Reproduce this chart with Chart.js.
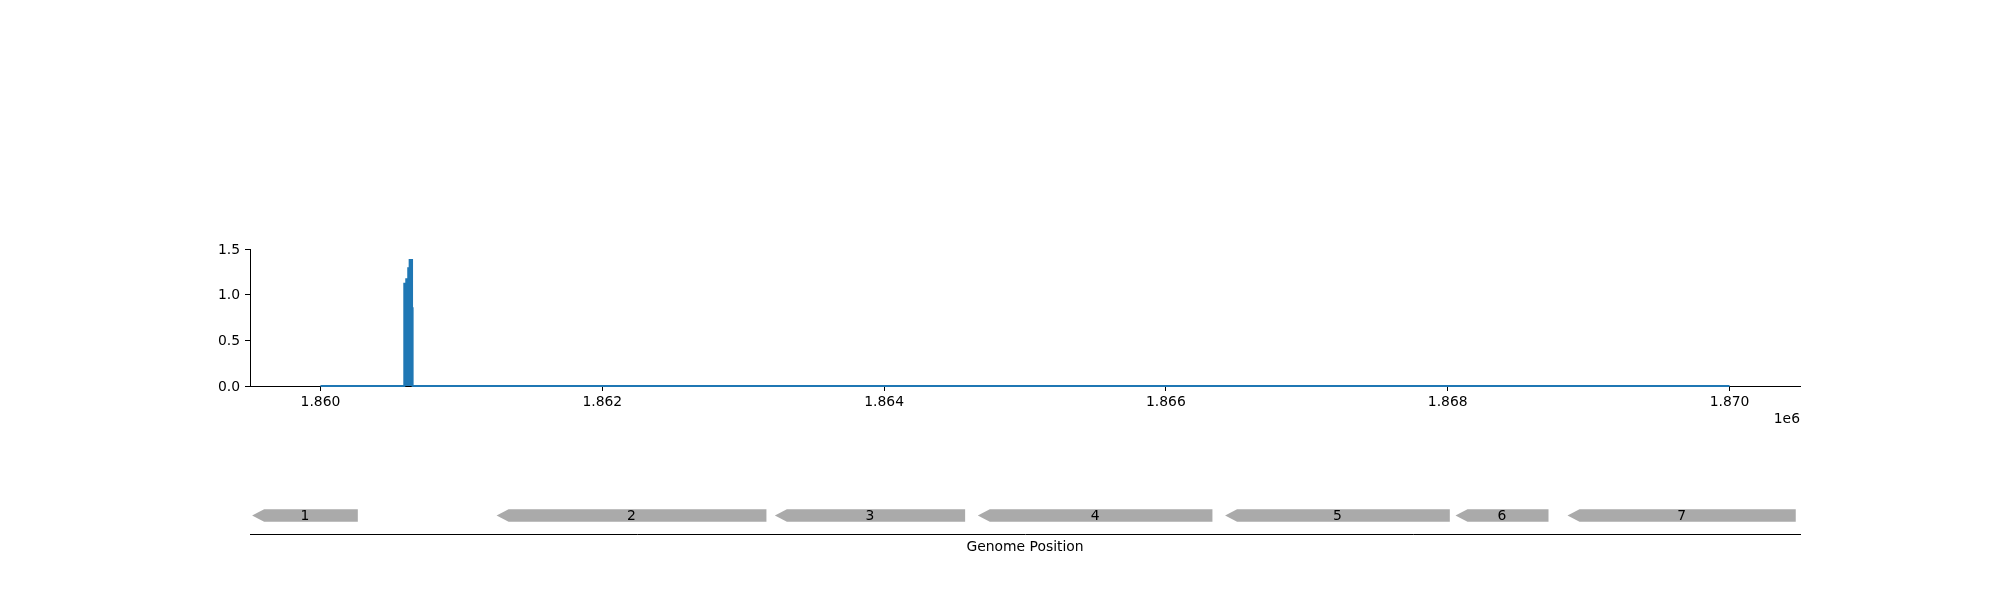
<!DOCTYPE html>
<html><head><meta charset="utf-8">
<script src="https://cdn.jsdelivr.net/npm/chart.js@4.4.0/dist/chart.umd.min.js"></script>
<style>
html,body{margin:0;padding:0;background:#fff;}
#wrap{position:relative;width:2000px;height:600px;}
canvas{position:absolute;left:0;top:0;}
</style></head><body>
<div id="wrap"><canvas id="cov" width="2000" height="600"></canvas><canvas id="genes" width="2000" height="600"></canvas></div>
<script>
// ---- data ----
const covPositions = [1860000, 1860595, 1860609, 1860623, 1860633, 1860650, 1860654, 1870000];
const covValues    = [0,       1.12,    1.17,    1.29,    1.38,    0.85,    0,       0];
const xTicks = [1860000, 1862000, 1864000, 1866000, 1868000, 1870000];
const yTicks = [0, 0.5, 1.0, 1.5];
const xRange = [1859500, 1870500];
const yRange = [0, 1.5];
const geneLabels  = ['1', '2', '3', '4', '5', '6', '7'];
const geneStarts  = [1859515, 1861250, 1863225, 1864665, 1866420, 1868055, 1868850];
const geneEnds    = [1860265, 1863165, 1864575, 1866330, 1868015, 1868715, 1870470];
const geneStrands = [-1, -1, -1, -1, -1, -1, -1];
const xLabel = 'Genome Position';
const offsetText = '1e6';

// ---- styles ----
const FONT = {family: "'DejaVu Sans', sans-serif", size: 13.9};
Chart.defaults.color = '#000';
Chart.defaults.font.family = FONT.family;
Chart.defaults.font.size = FONT.size;
const BLUE = '#1f77b4';
const GENE_COLOR = '#aaaaaa';
const GENE_Y = 0.42, GENE_H = 0.28, HEAD_PX = 12;

new Chart(document.getElementById('cov'), {
  type: 'line',
  data: {datasets: [{
    data: covPositions.map((x, i) => ({x: x, y: covValues[i]})),
    stepped: 'before', fill: 'origin',
    borderColor: BLUE, backgroundColor: BLUE, borderWidth: 2,
    pointRadius: 0, clip: false
  }]},
  options: {
    responsive: false, animation: false, events: [],
    plugins: {legend: {display: false}, tooltip: {enabled: false}},
    layout: {padding: {left: 190, right: 200, top: 249, bottom: 172}},
    scales: {
      x: {
        type: 'linear', min: xRange[0], max: xRange[1],
        afterBuildTicks: s => { s.ticks = xTicks.map(v => ({value: v})); },
        afterFit: s => { s.height = 42; },
        ticks: {callback: v => (v / 1e6).toFixed(3), padding: 3, maxRotation: 0, autoSkip: false, color: '#000', font: FONT},
        grid: {display: true, drawOnChartArea: false, drawTicks: true, tickLength: 5, tickColor: '#000', tickWidth: 1},
        border: {display: true, color: '#000', width: 1},
        title: {display: true, text: offsetText, align: 'end', padding: 0, color: '#000', font: FONT}
      },
      y: {
        type: 'linear', min: yRange[0], max: yRange[1],
        afterBuildTicks: s => { s.ticks = yTicks.map(v => ({value: v})); },
        afterFit: s => { s.width = 60; },
        ticks: {callback: v => v.toFixed(1), padding: 5, labelOffset: 1, color: '#000', font: FONT},
        grid: {display: true, drawOnChartArea: false, drawTicks: true, tickLength: 5, tickColor: '#000', tickWidth: 1},
        border: {display: true, color: '#000', width: 1}
      }
    }
  }
});

const genePlugin = {
  id: 'genes',
  afterDatasetsDraw(chart) {
    const ctx = chart.ctx, xs = chart.scales.x, ys = chart.scales.y;
    ctx.save();
    for (let i = 0; i < geneLabels.length; i++) {
      const a = xs.getPixelForValue(geneStarts[i]);
      const b = xs.getPixelForValue(geneEnds[i]);
      const yc = ys.getPixelForValue(GENE_Y);
      const yt = ys.getPixelForValue(GENE_Y + GENE_H / 2);
      const yb = ys.getPixelForValue(GENE_Y - GENE_H / 2);
      ctx.beginPath();
      if (geneStrands[i] < 0) {
        ctx.moveTo(a, yc); ctx.lineTo(a + HEAD_PX, yt); ctx.lineTo(b, yt);
        ctx.lineTo(b, yb); ctx.lineTo(a + HEAD_PX, yb);
      } else {
        ctx.moveTo(b, yc); ctx.lineTo(b - HEAD_PX, yt); ctx.lineTo(a, yt);
        ctx.lineTo(a, yb); ctx.lineTo(b - HEAD_PX, yb);
      }
      ctx.closePath();
      ctx.fillStyle = GENE_COLOR;
      ctx.fill();
      ctx.fillStyle = '#000';
      ctx.font = FONT.size + 'px ' + FONT.family;
      ctx.textAlign = 'center';
      ctx.textBaseline = 'middle';
      ctx.fillText(geneLabels[i], (a + b) / 2, yc + 1);
    }
    ctx.restore();
  }
};

new Chart(document.getElementById('genes'), {
  type: 'scatter',
  data: {datasets: [{data: []}]},
  options: {
    responsive: false, animation: false, events: [],
    plugins: {legend: {display: false}, tooltip: {enabled: false}},
    layout: {padding: {left: 250, right: 200, top: 490, bottom: 44}},
    scales: {
      x: {
        type: 'linear', min: xRange[0], max: xRange[1],
        afterFit: s => { s.height = 22; },
        ticks: {display: false},
        grid: {display: false},
        border: {display: true, color: '#000', width: 1},
        title: {display: true, text: xLabel, padding: 0, color: '#000', font: FONT}
      },
      y: {display: false, min: 0, max: 1}
    }
  },
  plugins: [genePlugin]
});
</script>
</body></html>
